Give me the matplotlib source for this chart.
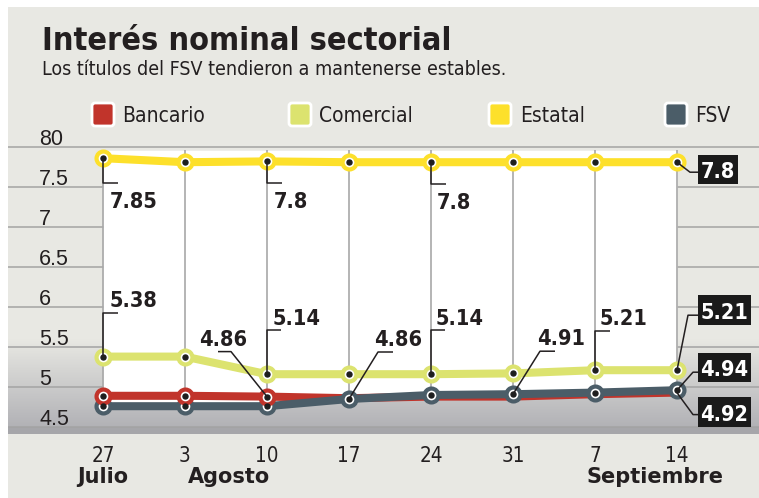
import numpy as np
import matplotlib
matplotlib.use('Agg')
import matplotlib.pyplot as plt
import matplotlib.font_manager as fm
from matplotlib.colors import LinearSegmentedColormap
from matplotlib.patches import FancyBboxPatch, Rectangle
from matplotlib.transforms import IdentityTransform

# Data
days = ['27', '3', '10', '17', '24', '31', '7', '14']
months = ['Julio', 'Agosto', 'Septiembre']
month_idx = [0, 1, 6]
estatal = [7.86, 7.81, 7.82, 7.81, 7.81, 7.81, 7.81, 7.81]
comercial = [5.38, 5.38, 5.16, 5.16, 5.16, 5.17, 5.21, 5.21]
bancario = [4.89, 4.89, 4.88, 4.86, 4.88, 4.88, 4.91, 4.93]
fsv = [4.76, 4.76, 4.76, 4.85, 4.90, 4.91, 4.93, 4.96]
y_ticks = [8.0, 7.5, 7.0, 6.5, 6.0, 5.5, 5.0, 4.5]
y_labels = ['80', '7.5', '7', '6.5', '6', '5.5', '5', '4.5']
names = ['Bancario', 'Comercial', 'Estatal', 'FSV']
colors = ['#c1342b', '#dce36f', '#fde02b', '#4b5d68']

BG = '#e8e8e3'
DARK = '#231f20'
SANS = ['Liberation Sans', 'DejaVu Sans']

# pick a condensed face if there is one
fonts = fm.fontManager.ttflist
avail = {f.name for f in fonts}
if 'Liberation Sans Narrow' in avail:
    NARROW, STRETCH, K = ['Liberation Sans Narrow'], 'normal', 1.0
elif 'DejaVu Sans Condensed' in avail:
    NARROW, STRETCH, K = ['DejaVu Sans Condensed'], 'normal', 0.8
elif any(f.name == 'DejaVu Sans' and f.stretch != 'normal' for f in fonts):
    NARROW, STRETCH, K = ['DejaVu Sans'], 'condensed', 0.8
else:
    NARROW, STRETCH, K = ['Liberation Sans', 'DejaVu Sans'], 'normal', 0.83
NF = dict(family=NARROW, fontstretch=STRETCH)

W, H = 759, 498
fig = plt.figure(figsize=(W / 100, H / 100), dpi=100)
fig.patch.set_facecolor('white')
ax = fig.add_axes([8 / W, 0, (W - 8) / W, (H - 7) / H])
ax.set_facecolor(BG)
for s in ax.spines.values():
    s.set_visible(False)
ax.set_xticks([])
ax.set_yticks([])

xmin, xmax = (8 - 103) / 82, (759 - 103) / 82
ymin, ymax = 8 - (498 - 147) / 80, 8 + (147 - 7) / 80
x = np.arange(len(days))


def to_data(px, py):
    return ax.transData.inverted().transform((px, H - py))


def to_px(xd, yd):
    dx, dy = ax.transData.transform((xd, yd))
    return dx, H - dy


# bottom gradient band
cmap = LinearSegmentedColormap.from_list('g', ['#b2b2b6', BG])
grad = np.linspace(0, 1, 100).reshape(-1, 1)
ax.imshow(grad, extent=[xmin, xmax, 4.5, 5.6], origin='lower', aspect='auto',
          cmap=cmap, zorder=0)
ax.axhspan(4.41, 4.5, color='#a6a6aa', lw=0, zorder=0)
ax.set_xlim(xmin, xmax)
ax.set_ylim(ymin, ymax)

# horizontal grid
ax.hlines(y_ticks, xmin, xmax, color='#a3a3a3', lw=1.1, zorder=1)

# white plot area between top and the lowest line
lower = np.minimum(bancario, fsv)
ax.fill_between(x, lower, 7.96, color='white', lw=0, zorder=2)
ax.vlines(x, lower, 7.96, color='#a8a8a8', lw=1.2, zorder=3)

# lines
lw = 5.8
ax.plot(x, estatal, color=colors[2], lw=lw, zorder=4, solid_capstyle='round')
ax.plot(x, comercial, color=colors[1], lw=lw, zorder=4, solid_capstyle='round')
ax.plot(x, bancario, color=colors[0], lw=lw, zorder=4, solid_capstyle='round')
ax.plot(x, fsv, color=colors[3], lw=lw, zorder=5, solid_capstyle='round')

mk = dict(marker='o', ms=10, mew=3, mfc='white', ls='none')
ax.plot(x, estatal, mec=colors[2], zorder=6, **mk)
ax.plot(x, comercial, mec=colors[1], zorder=6, **mk)
ax.plot(x, fsv, mec=colors[3], zorder=6, **mk)
ax.plot(x[:3], bancario[:3], mec=colors[0], zorder=7, **mk)
dot = dict(marker='o', ms=3.6, color='#1e1e1e', ls='none', zorder=8)
ax.plot(x, estatal, **dot)
ax.plot(x, comercial, **dot)
ax.plot(x, fsv, **dot)
ax.plot(x[:3], bancario[:3], **dot)

LBL = 19.5 * K


def leader(i, vals, pts):
    px0, py0 = to_px(i, vals[i])
    d = np.array([to_data(px0 + a, py0 + b) for a, b in pts])
    ax.plot(d[:, 0], d[:, 1], color=DARK, lw=1.1, zorder=9,
            solid_capstyle='butt')
    return px0, py0


def label(txt, i, vals, pts, tx, ty, ha='left'):
    px0, py0 = leader(i, vals, pts)
    ax.text(*to_data(px0 + tx, py0 + ty), txt, ha=ha, va='baseline',
            fontsize=LBL, fontweight='bold', color=DARK, zorder=10, **NF)


def boxed(txt, i, vals, pts, top, w, h=29):
    px0, py0 = leader(i, vals, pts)
    x0, y0 = to_data(px0 + 21, py0 + top + h)
    x1, y1 = to_data(px0 + 21 + w, py0 + top)
    ax.add_patch(Rectangle((x0, y0), x1 - x0, y1 - y0, fc='#1a1a1a',
                           ec='none', zorder=10))
    ax.text(*to_data(px0 + 21 + w / 2, py0 + top + h - 6), txt, ha='center',
            va='baseline', fontsize=LBL, fontweight='bold', color='white',
            zorder=11, **NF)


label('7.85', 0, estatal, [(0, 0), (0, 25), (15, 25)], 7, 50)
label('7.8', 2, estatal, [(0, 0), (0, 22), (15, 22)], 7, 47)
label('7.8', 4, estatal, [(0, 0), (0, 22), (15, 22)], 6, 47)
label('5.38', 0, comercial, [(0, 0), (0, -44), (15, -44)], 7, -50)
label('4.86', 2, bancario, [(0, 0), (-36, -45), (-49, -45)], -44, -51,
      ha='center')
label('5.14', 2, comercial, [(0, 0), (0, -44), (14, -44)], 6, -49)
label('4.86', 3, fsv, [(0, 0), (29, -47), (44, -47)], 25, -53)
label('5.14', 4, comercial, [(0, 0), (0, -44), (14, -44)], 5, -49)
label('4.91', 5, fsv, [(0, 0), (27, -43), (42, -43)], 24, -49)
label('5.21', 6, comercial, [(0, 0), (0, -39), (15, -39)], 5, -45)

boxed('7.8', 7, estatal, [(0, 0), (13, 10), (21, 10)], -7, 40)
boxed('5.21', 7, comercial, [(0, 0), (11, -55), (21, -55)], -75, 53, 30)
boxed('4.94', 7, fsv, [(0, 0), (16, -18), (21, -18)], -37, 53)
boxed('4.92', 7, bancario, [(0, 0), (5, 7), (16, 22), (21, 22)], 4, 53, 30)

# y tick labels, sitting above their gridlines
for v, t in zip(y_ticks, y_labels):
    px0, py0 = to_px(0, v)
    ax.text(*to_data(39, py0 - 2), t, ha='left', va='baseline', fontsize=15.5,
            family=SANS, color=DARK, zorder=10)

# x labels
for i, d in enumerate(days):
    px0, _ = to_px(i, 5)
    ax.text(*to_data(px0, 462), d, ha='center', va='baseline',
            fontsize=18.5 * K, color=DARK, **NF)
month_dx = [0, 3, -8]
month_ha = ['center', 'left', 'left']
for m, i, dx, ha in zip(months, month_idx, month_dx, month_ha):
    px0, _ = to_px(i, 5)
    if ha == 'left':
        px0 = px0 + dx
    ax.text(*to_data(px0, 483), m, ha=ha, va='baseline', fontsize=15,
            fontweight='bold', family=['DejaVu Sans'], color=DARK)

# title and subtitle
ident = IdentityTransform()
fig.text(42, H - 50, 'Interés nominal sectorial', transform=ident,
         fontsize=29 * K, fontweight='bold', color=DARK, va='baseline', **NF)
fig.text(42, H - 75, 'Los títulos del FSV tendieron a mantenerse estables.',
         transform=ident, fontsize=17.5 * K, color=DARK, va='baseline', **NF)

# legend
patch_x = [92, 289, 489, 665]
text_x = [122, 319, 520, 695]
for n, c, px0, tx in zip(names, colors, patch_x, text_x):
    fig.add_artist(FancyBboxPatch((px0, H - 126), 22, 23,
                                  boxstyle='round,pad=0,rounding_size=3',
                                  fc=c, ec='white', lw=2, transform=ident))
    fig.text(tx, H - 122, n, transform=ident, fontsize=18.8 * K, color=DARK,
             va='baseline', **NF)

fig.savefig('out.png', dpi=100)
